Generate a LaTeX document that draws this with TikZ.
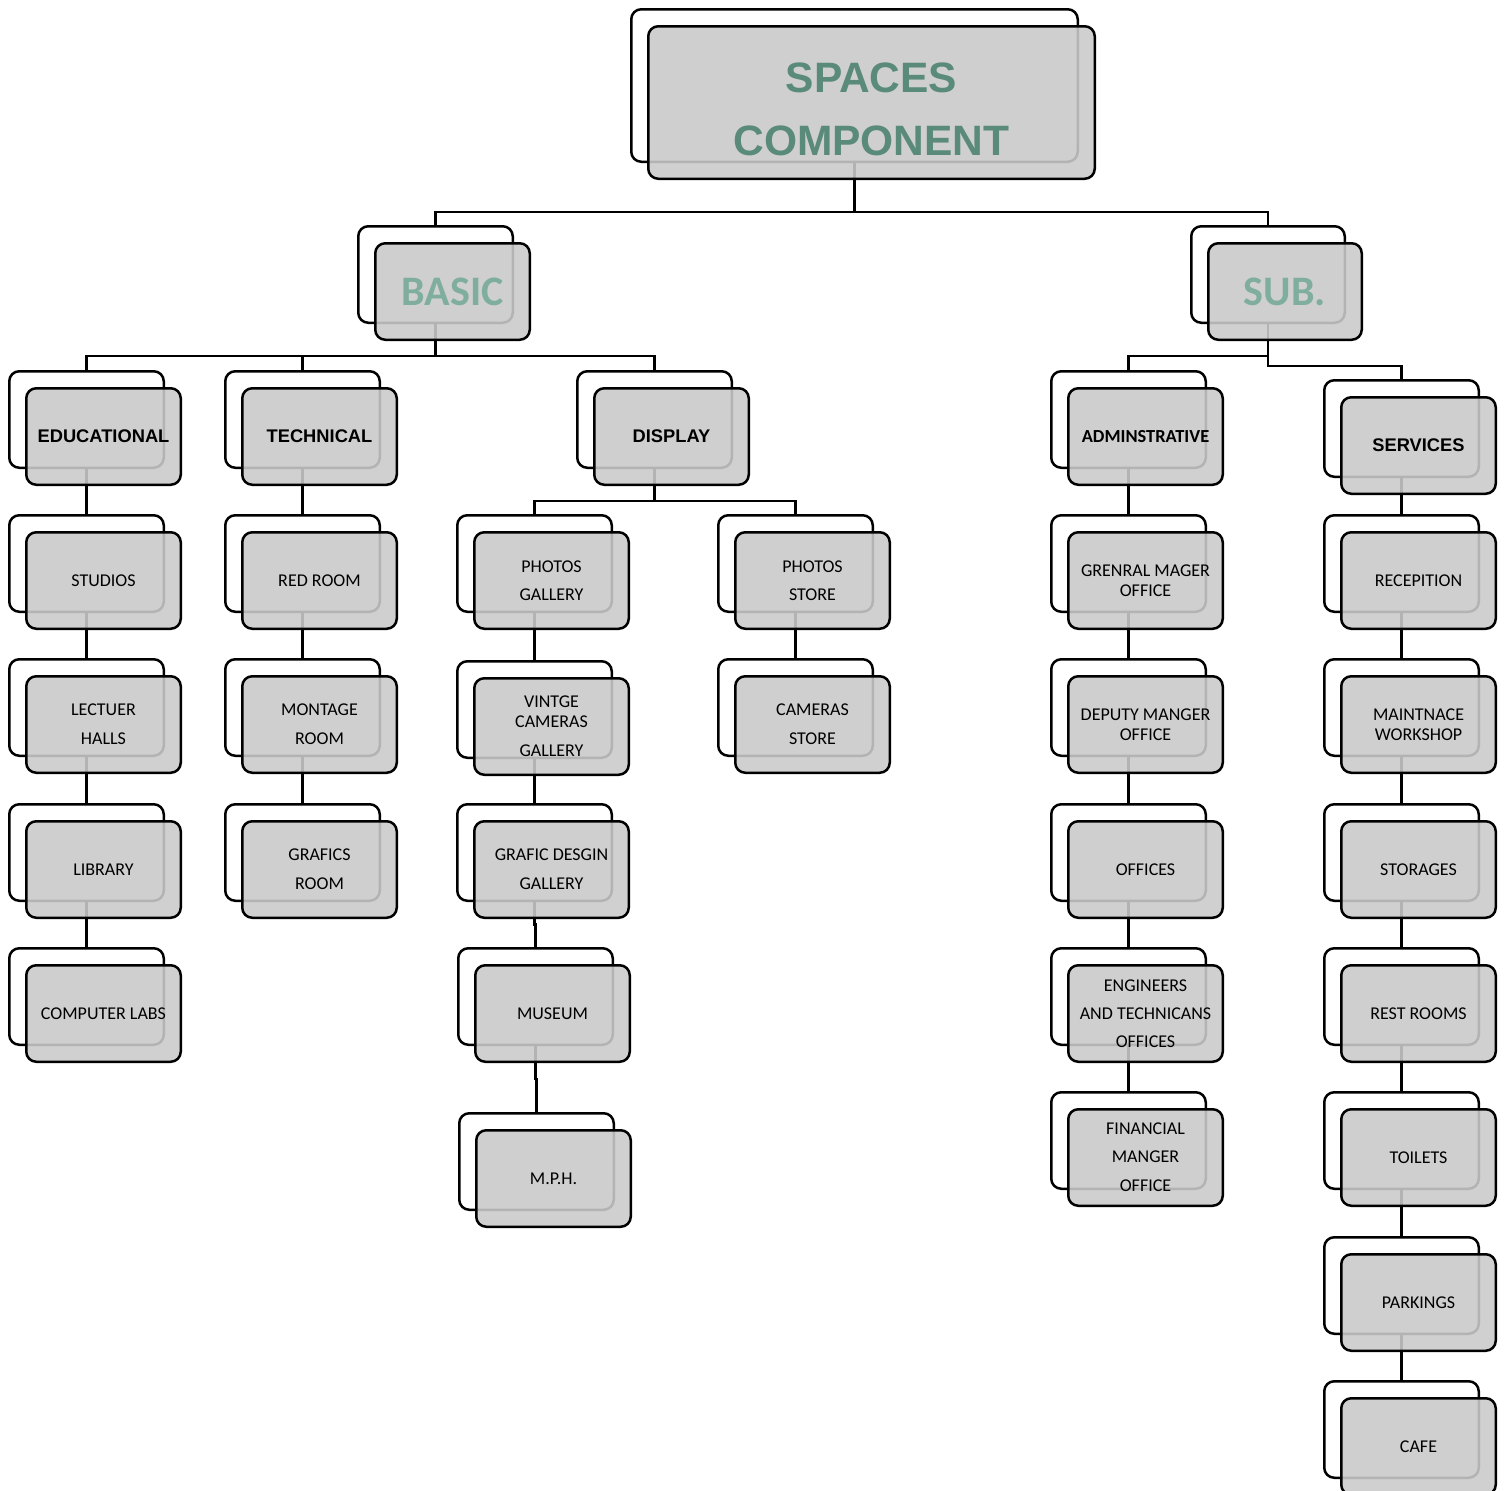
\documentclass[tikz,border=0pt]{standalone}
\usepackage{fontspec}
\setmainfont{Carlito}
\newfontfamily\hfont{Liberation Sans}
\usetikzlibrary{calc}
\pgfdeclarelayer{bk}
\pgfdeclarelayer{fr}
\pgfsetlayers{bk,main,fr}
\definecolor{ttl}{RGB}{90,138,122}
\definecolor{lt}{RGB}{127,174,158}
\definecolor{boxf}{RGB}{202,202,202}
\tikzset{
  shp/.style={rectangle, rounded corners=10pt, line width=2.5pt, draw=black,
    minimum width=154.5pt, minimum height=96.5pt, inner sep=0pt, align=center},
  backbox/.style={shp, fill=white},
  frontbox/.style={shp, fill=boxf, fill opacity=0.89, text opacity=1},
  conn/.style={line width=2.5pt, draw=black},
  jog/.style={to path={(\tikztostart) |- ($(\tikztostart)!0.5!(\tikztotarget)$) -| (\tikztotarget)}},
  child/.style={font=\fontsize{18}{20}\selectfont},
  head/.style={font=\hfont\bfseries\fontsize{18.3}{22}\selectfont},
  headc/.style={font=\bfseries\fontsize{18.4}{22}\selectfont},
  big/.style={font=\bfseries\fontsize{42}{50}\selectfont, text=lt},
}
\newcommand\bx[5]{%
  \begin{pgfonlayer}{bk}\node[backbox,#4] (#1) at ({#2-17},{#3-17}) {};\end{pgfonlayer}
  \begin{pgfonlayer}{fr}\node[frontbox,#4] (#1f) at (#2,#3) {#5};\end{pgfonlayer}}
\begin{document}
\begin{tikzpicture}[x=1pt,y=-1pt]
\useasboundingbox (0,0) rectangle (1510,1491);
% top
\bx{top}{871.5}{102.5}{minimum width=446.5pt, minimum height=152.5pt}{}
\begin{pgfonlayer}{fr}
\node[font=\hfont\bfseries\fontsize{42.5}{63}\selectfont, text=ttl, align=center] (toptext) at (871.5,109.5) {SPACES\\COMPONENT};
\end{pgfonlayer}
% level 1
\bx{basic}{452.5}{291.5}{big}{BASIC}
\bx{sub}{1285}{291.5}{big, minimum width=153.5pt}{SUB.}
% level 2
\bx{edu}{103.5}{436.5}{head}{EDUCATIONAL}
\bx{tech}{319.5}{436.5}{head}{TECHNICAL}
\bx{disp}{671.5}{436.5}{head}{DISPLAY}
\bx{adm}{1145.5}{436.5}{headc}{ADMINSTRATIVE}
\bx{serv}{1418.5}{445.5}{head}{SERVICES}
% educational
\bx{stud}{103.5}{580.5}{child}{STUDIOS}
\bx{lect}{103.5}{724.5}{child}{LECTUER\\[9pt]HALLS}
\bx{lib}{103.5}{869.5}{child}{LIBRARY}
\bx{comp}{103.5}{1013.5}{child}{COMPUTER LABS}
% technical
\bx{red}{319.5}{580.5}{child}{RED ROOM}
\bx{mont}{319.5}{724.5}{child}{MONTAGE\\[9pt]ROOM}
\bx{graf}{319.5}{869.5}{child}{GRAFICS\\[9pt]ROOM}
% display
\bx{pg}{551.5}{580.5}{child}{PHOTOS\\[8pt]GALLERY}
\bx{vc}{551.5}{726.5}{child}{VINTGE\\CAMERAS\\[9pt]GALLERY}
\bx{gd}{551.5}{869.5}{child}{GRAFIC DESGIN\\[9pt]GALLERY}
\bx{mus}{552.5}{1013.5}{child}{MUSEUM}
\bx{mph}{553.5}{1178.5}{child}{M.P.H.}
\bx{ps}{812.5}{580.5}{child}{PHOTOS\\[8pt]STORE}
\bx{cs}{812.5}{724.5}{child}{CAMERAS\\[9pt]STORE}
% administrative
\bx{gm}{1145.5}{580.5}{child}{GRENRAL MAGER\\OFFICE}
\bx{dm}{1145.5}{724.5}{child}{DEPUTY MANGER\\OFFICE}
\bx{off}{1145.5}{869.5}{child}{OFFICES}
\bx{eng}{1145.5}{1013.5}{child}{ENGINEERS\\[8pt]AND TECHNICANS\\[8pt]OFFICES}
\bx{fin}{1145.5}{1157.5}{child}{FINANCIAL\\[8pt]MANGER\\[9pt]OFFICE}
% services
\bx{rec}{1418.5}{580.5}{child}{RECEPITION}
\bx{mw}{1418.5}{724.5}{child}{MAINTNACE\\WORKSHOP}
\bx{sto}{1418.5}{869.5}{child}{STORAGES}
\bx{rr}{1418.5}{1013.5}{child}{REST ROOMS}
\bx{toi}{1418.5}{1157.5}{child}{TOILETS}
\bx{park}{1418.5}{1302.5}{child}{PARKINGS}
\bx{cafe}{1418.5}{1446.5}{child}{CAFE}
% connectors
\draw[conn] (top.south) -- ++(0,49) -| (basic.north);
\draw[conn] (top.south) -- ++(0,49) -| (sub.north);
\draw[conn] (basic.south) -- ++(0,32) -| (edu.north);
\draw[conn] (basic.south) -- ++(0,32) -| (tech.north);
\draw[conn] (basic.south) -- ++(0,32) -| (disp.north);
\draw[conn] (sub.south) -- ++(0,32) -| (adm.north);
\draw[conn] (sub.south) -- ++(0,42) -| (serv.north);
\draw[conn] (disp.south) -- ++(0,32) -| (pg.north);
\draw[conn] (disp.south) -- ++(0,32) -| (ps.north);
\draw[conn] (edu.south) to[jog] (stud.north);
\draw[conn] (stud.south) to[jog] (lect.north);
\draw[conn] (lect.south) to[jog] (lib.north);
\draw[conn] (lib.south) to[jog] (comp.north);
\draw[conn] (tech.south) to[jog] (red.north);
\draw[conn] (red.south) to[jog] (mont.north);
\draw[conn] (mont.south) to[jog] (graf.north);
\draw[conn] (pg.south) to[jog] (vc.north);
\draw[conn] (vc.south) to[jog] (gd.north);
\draw[conn] (gd.south) to[jog] (mus.north);
\draw[conn] (mus.south) to[jog] (mph.north);
\draw[conn] (ps.south) to[jog] (cs.north);
\draw[conn] (adm.south) to[jog] (gm.north);
\draw[conn] (gm.south) to[jog] (dm.north);
\draw[conn] (dm.south) to[jog] (off.north);
\draw[conn] (off.south) to[jog] (eng.north);
\draw[conn] (eng.south) to[jog] (fin.north);
\draw[conn] (serv.south) to[jog] (rec.north);
\draw[conn] (rec.south) to[jog] (mw.north);
\draw[conn] (mw.south) to[jog] (sto.north);
\draw[conn] (sto.south) to[jog] (rr.north);
\draw[conn] (rr.south) to[jog] (toi.north);
\draw[conn] (toi.south) to[jog] (park.north);
\draw[conn] (park.south) to[jog] (cafe.north);
\end{tikzpicture}
\end{document}
